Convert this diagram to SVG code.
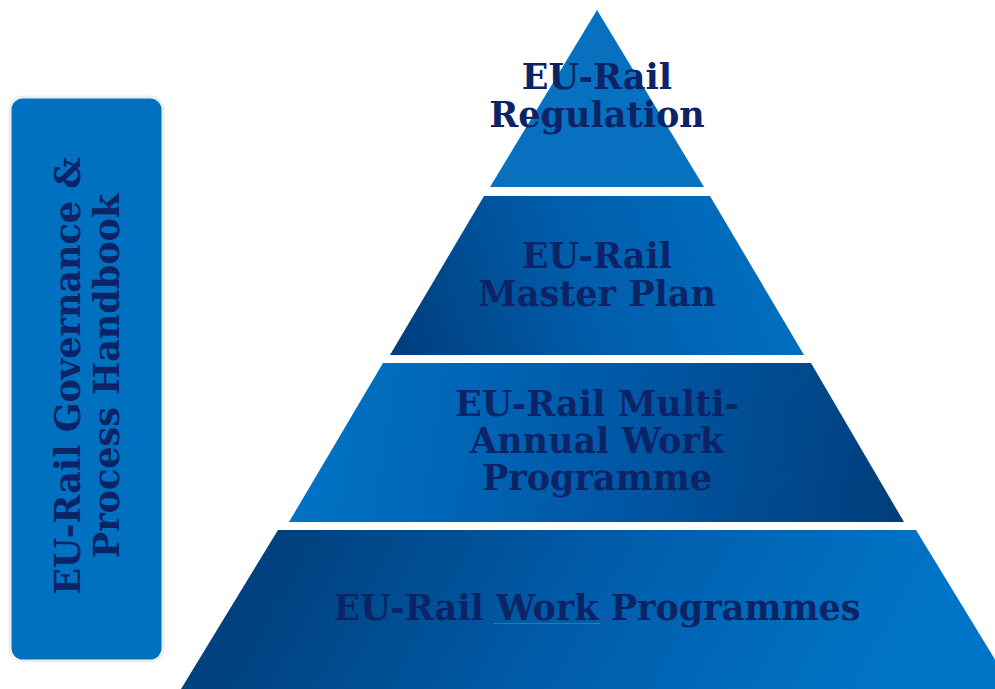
<svg xmlns="http://www.w3.org/2000/svg" width="995" height="689" viewBox="0 0 995 689">
<defs>
<linearGradient id="g1" gradientUnits="userSpaceOnUse" x1="490" y1="10" x2="704" y2="187"><stop offset="0" stop-color="#0970c0"/><stop offset="1" stop-color="#0571bf"/></linearGradient>
<linearGradient id="g2" gradientUnits="userSpaceOnUse" x1="395" y1="360" x2="800" y2="220"><stop offset="0" stop-color="#003d7b"/><stop offset="0.5" stop-color="#005fae"/><stop offset="1" stop-color="#0072c3"/></linearGradient>
<linearGradient id="g3" gradientUnits="userSpaceOnUse" x1="300" y1="420" x2="900" y2="520"><stop offset="0" stop-color="#0073c5"/><stop offset="0.5" stop-color="#0059a8"/><stop offset="1" stop-color="#003e7b"/></linearGradient>
<linearGradient id="g4" gradientUnits="userSpaceOnUse" x1="320" y1="500" x2="820" y2="780"><stop offset="0" stop-color="#00427f"/><stop offset="0.5" stop-color="#005dab"/><stop offset="1" stop-color="#0074c6"/></linearGradient>
</defs>
<style>
.t{font-family:"DejaVu Serif","Liberation Serif",serif;font-weight:bold;font-size:35px;fill:#0c2466;text-anchor:middle}
</style>
<rect width="995" height="689" fill="#ffffff"/>
<g id="handbook">
<rect x="10" y="97" width="153" height="564" rx="13" fill="#0070c0" stroke="#eeeeee" stroke-width="3"/>
<text class="t" transform="translate(80,376) rotate(-90)">EU-Rail Governance &amp;</text>
<text class="t" transform="translate(119,376) rotate(-90)">Process Handbook</text>
</g>
<g id="regulation">
<polygon points="597,10 704,187 490,187" fill="url(#g1)"/>
<text class="t" x="597" y="89">EU-Rail</text>
<text class="t" x="597" y="127">Regulation</text>
</g>
<g id="masterplan">
<polygon points="484,196 710,196 804,355 390,355" fill="url(#g2)"/>
<text class="t" x="597" y="268">EU-Rail</text>
<text class="t" x="597" y="306">Master Plan</text>
</g>
<g id="mawp">
<polygon points="383,363 811,363 904,522 289,522" fill="url(#g3)"/>
<text class="t" x="597" y="416">EU-Rail Multi-</text>
<text class="t" x="597" y="453">Annual Work</text>
<text class="t" x="597" y="490">Programme</text>
</g>
<g id="workprogrammes">
<polygon points="278,530 916,530 1013,689 181,689" fill="url(#g4)"/>
<text class="t" x="597" y="620">EU-Rail Work Programmes</text>
<line x1="494" y1="623.5" x2="600" y2="623.5" stroke="#6b5d9e" stroke-width="1.2"/>
</g>
<g id="connectors"></g>
</svg>
